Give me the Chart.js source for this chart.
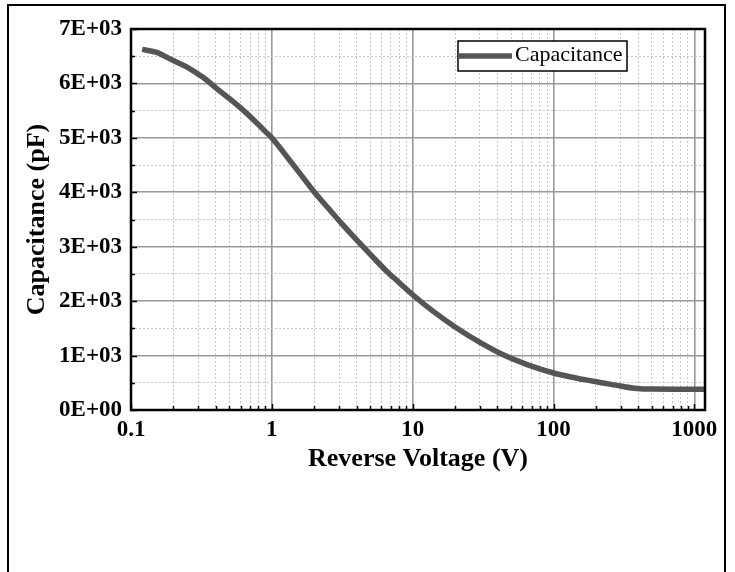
<!DOCTYPE html>
<html>
<head>
<meta charset="utf-8">
<script src="https://cdn.jsdelivr.net/npm/chart.js@4.4.1/dist/chart.umd.min.js"></script>
<style>
  html, body { margin: 0; padding: 0; background: #fff; overflow: hidden; }
  #frame {
    position: absolute; left: 7px; top: 4px; width: 715px; height: 620px;
    border: 2px solid #000; border-bottom: none;
  }
  #wrap { position: absolute; left: 0; top: 0; width: 735px; height: 572px; }
</style>
</head>
<body>
<div id="frame"></div>
<div id="wrap"><canvas id="capChart" width="735" height="572"></canvas></div>
<script>
// measured C-V curve
const voltage = [0.12, 0.15, 0.2, 0.25, 0.3, 0.33, 0.4, 0.5, 0.6, 0.75, 0.9, 1,
    1.3, 1.6, 2, 2.5, 3, 4, 5, 6.5, 8, 10, 14, 20, 30, 46, 65, 100,
    130, 170, 230, 300, 390, 500, 700, 1000, 1190];
const capacitance = [6625, 6575, 6420, 6300, 6170, 6100, 5920, 5720, 5550, 5320, 5115, 5000,
    4630, 4330, 4005, 3715, 3480, 3125, 2860, 2555, 2343, 2118, 1811, 1526, 1243, 990, 835, 680,
    612, 553, 492, 440, 396, 384, 383, 383, 383];

const decades = [0.1, 1, 10, 100, 1000];
const xMin = 0.1;
const xMax = 1190;
const yMin = 0;
const yMax = 7000;
const yStep = 500;
const yLabelStep = 1000;

const FONT = "'Liberation Serif', 'Times New Roman', serif";

function sciLabel(v) {
    if (v === 0) return '0E+00';
    const e = Math.floor(Math.log10(v));
    const m = Math.round(v / Math.pow(10, e));
    return m + 'E+' + String(e).padStart(2, '0');
}

function isDecade(v) {
    return decades.some(d => Math.abs(d - v) < 1e-9);
}

// inward ticks, plot frame and the boxed legend
const decorations = {
    id: 'decorations',
    afterDatasetsDraw(chart) {
        const {ctx, chartArea: a, scales} = chart;
        ctx.save();
        ctx.strokeStyle = '#000';
        ctx.lineWidth = 1.5;
        scales.x.ticks.forEach(t => {
            const px = Math.round(scales.x.getPixelForValue(t.value)) + 0.5;
            const len = t.major ? 6 : 4;
            ctx.beginPath();
            ctx.moveTo(px, a.bottom);
            ctx.lineTo(px, a.bottom - len);
            ctx.stroke();
        });
        scales.y.ticks.forEach(t => {
            const py = Math.round(scales.y.getPixelForValue(t.value)) + 0.5;
            const len = t.value % yLabelStep === 0 ? 6 : 4;
            ctx.beginPath();
            ctx.moveTo(a.left, py);
            ctx.lineTo(a.left + len, py);
            ctx.stroke();
        });
        ctx.lineWidth = 2.5;
        ctx.strokeRect(a.left, a.top, a.right - a.left, a.bottom - a.top);

        // legend
        const ds = chart.data.datasets[0];
        const bx = a.right - 247, by = a.top + 12, bw = 169, bh = 30;
        ctx.fillStyle = '#fff';
        ctx.fillRect(bx, by, bw, bh);
        ctx.lineWidth = 1.5;
        ctx.strokeRect(bx, by, bw, bh);
        ctx.strokeStyle = ds.borderColor;
        ctx.lineWidth = ds.borderWidth;
        ctx.beginPath();
        ctx.moveTo(bx, by + 15);
        ctx.lineTo(bx + 54, by + 15);
        ctx.stroke();
        ctx.fillStyle = '#000';
        ctx.font = '22px ' + FONT;
        ctx.textBaseline = 'middle';
        ctx.fillText(ds.label, bx + 57, by + 14);
        ctx.restore();
    }
};

const chart = new Chart(document.getElementById('capChart'), {
    type: 'line',
    data: {
        datasets: [{
            label: 'Capacitance',
            data: voltage.map((v, i) => ({x: v, y: capacitance[i]})),
            borderColor: '#555555',
            borderWidth: 5.5,
            pointRadius: 0,
            fill: false,
            cubicInterpolationMode: 'monotone'
        }]
    },
    options: {
        responsive: false,
        animation: false,
        layout: {padding: {top: 29, right: 30, left: 0, bottom: 0}},
        plugins: {legend: {display: false}, tooltip: {enabled: false}},
        scales: {
            x: {
                type: 'logarithmic',
                min: xMin,
                max: xMax,
                afterBuildTicks: scale => {
                    const ticks = [];
                    decades.forEach(d => {
                        for (let m = 1; m <= 9; m++) {
                            const v = m * d;
                            if (v <= xMax) ticks.push({value: v, major: m === 1});
                        }
                    });
                    scale.ticks = ticks;
                },
                afterFit: scale => { scale.height = 162; },
                border: {
                    display: false,
                    dash: c => (c.tick && !c.tick.major) ? [2, 2] : []
                },
                grid: {
                    drawTicks: false,
                    color: c => (c.tick && c.tick.major) ? '#999999' : '#c8c8c8',
                    lineWidth: c => (c.tick && c.tick.major) ? 1.6 : 1
                },
                ticks: {
                    autoSkip: false,
                    maxRotation: 0,
                    padding: 6,
                    color: '#000',
                    font: {family: FONT, size: 23, weight: 'bold'},
                    callback: function(value) {
                        return isDecade(value) ? String(Math.round(value * 10) / 10) : '';
                    }
                },
                title: {
                    display: true,
                    text: 'Reverse Voltage (V)',
                    color: '#000',
                    font: {family: FONT, size: 26, weight: 'bold'},
                    padding: {top: 0, bottom: 97}
                }
            },
            y: {
                type: 'linear',
                min: yMin,
                max: yMax,
                afterFit: scale => { scale.width = 131; },
                border: {
                    display: false,
                    dash: c => (c.tick && c.tick.value % yLabelStep !== 0) ? [2, 2] : []
                },
                grid: {
                    drawTicks: false,
                    color: c => (c.tick && c.tick.value % yLabelStep === 0) ? '#999999' : '#c8c8c8',
                    lineWidth: c => (c.tick && c.tick.value % yLabelStep === 0) ? 1.6 : 1
                },
                ticks: {
                    stepSize: yStep,
                    autoSkip: false,
                    padding: 9,
                    color: '#000',
                    font: {family: FONT, size: 23, weight: 'bold'},
                    callback: value => value % yLabelStep === 0 ? sciLabel(value) : ''
                },
                title: {
                    display: true,
                    text: 'Capacitance (pF)',
                    color: '#000',
                    font: {family: FONT, size: 26, weight: 'bold'},
                    padding: {top: 22, bottom: 0}
                }
            }
        }
    },
    plugins: [decorations]
});
</script>
</body>
</html>
